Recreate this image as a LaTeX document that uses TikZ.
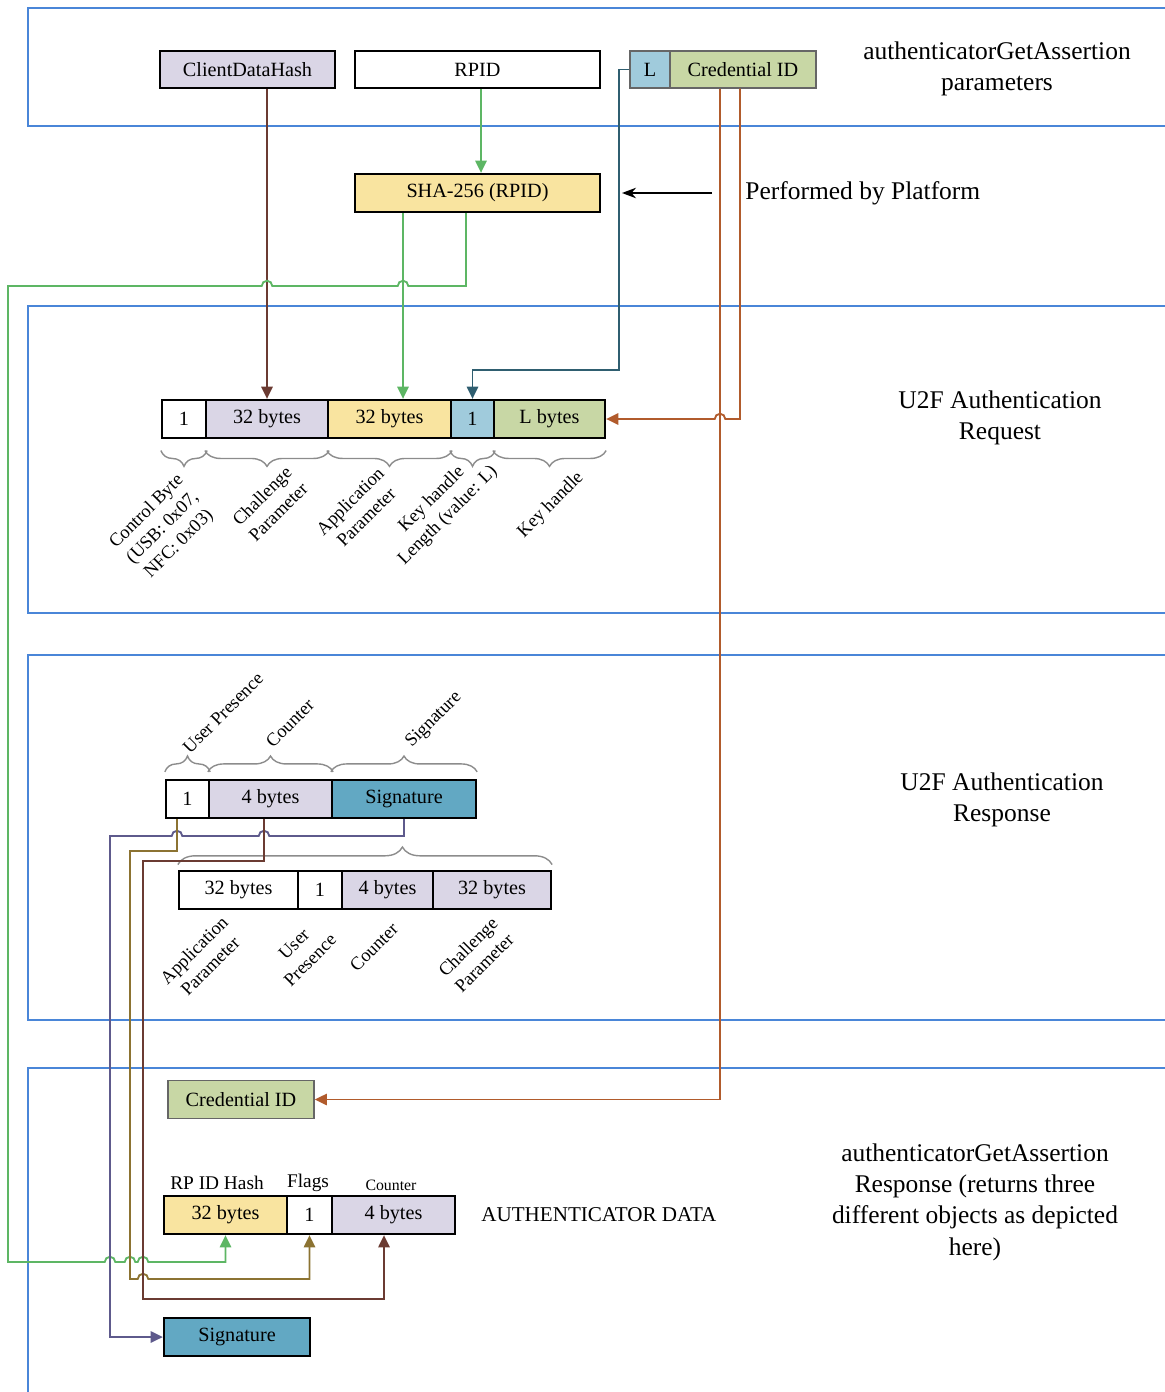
\documentclass[tikz,border=0pt]{standalone}
\usepackage{fontspec}
\setmainfont{Liberation Serif}
\usepackage{xcolor}
\definecolor{frameColor}{HTML}{4A86D8}
\definecolor{lavColor}{HTML}{DAD6E6}
\definecolor{yelColor}{HTML}{F9E4A0}
\definecolor{lblueColor}{HTML}{A0CBDC}
\definecolor{credColor}{HTML}{C8D7A5}
\definecolor{sigColor}{HTML}{62A8C3}
\definecolor{hashLine}{HTML}{5DB664}
\definecolor{cdhLine}{HTML}{6B3B32}
\definecolor{credLine}{HTML}{B15B2C}
\definecolor{lenLine}{HTML}{2F5E70}
\definecolor{sigLine}{HTML}{5E5A8C}
\definecolor{flagLine}{HTML}{8C7332}
\usepackage{tikz}
\usetikzlibrary{decorations.pathreplacing,positioning,arrows.meta,calc}

\tikzset{
  secframe/.style={draw=frameColor, line width=1pt},
  field/.style={draw=black, line width=1.3pt, fill=white, minimum height=0.76cm,
    inner sep=0pt, font=\fontsize{11.5}{13}\selectfont},
  softfield/.style={field, draw=black!60, line width=0.8pt},
  fieldlbl/.style={rotate=45, align=center, inner sep=0pt, font=\fontsize{10.5}{13}\selectfont},
  fieldtag/.style={inner sep=0pt, font=\fontsize{11}{13}\selectfont},
  sectitle/.style={align=center, inner sep=0pt, font=\fontsize{14.5}{17.8}\selectfont},
  fieldbrace/.style={draw=black!45, line width=0.8pt, decorate, decoration={brace, amplitude=9pt}},
  conn/.style={line width=1.05pt, -{Triangle[width=6.5pt,length=7pt]}},
}

\begin{document}
\begin{tikzpicture}[x=0.02cm, y=-0.02cm]
  \useasboundingbox (0,0) rectangle (1164,1392);

  % section frames
  \draw[secframe] (1170,8) -| (28,126) -- (1170,126);
  \draw[secframe] (1170,306) -| (28,613) -- (1170,613);
  \draw[secframe] (1170,655) -| (28,1020) -- (1170,1020);
  \draw[secframe] (1170,1068) -| (28,1400);

  % authenticatorGetAssertion parameters
  \node[field, fill=lavColor, minimum width=3.5cm, minimum height=0.74cm] (cdh) at (247.5,69.5) {ClientDataHash};
  \node[field, minimum width=4.9cm, minimum height=0.74cm] (rpid) at (477.5,69.5) {RPID};
  \node[softfield, fill=lblueColor, minimum width=0.8cm, minimum height=0.74cm] (len) at (650,69.5) {L};
  \node[softfield, fill=credColor, minimum width=2.92cm, minimum height=0.74cm] (cred) at (743,69.5) {Credential ID};
  \node[sectitle] (tparams) at (997,69) {authenticatorGetAssertion\\parameters};

  \node[field, fill=yelColor, minimum width=4.9cm] (sha) at (477.5,193) {SHA-256 (RPID)};
  \node[sectitle, anchor=west] (perf) at (745,193) {Performed by Platform};
  \coordinate (perfend) at (622,193);
  \draw[line width=0.8pt, -{Stealth[length=8pt,width=6pt]}] ([xshift=-0.66cm]perf.west) -- (perfend);

  % U2F authentication request
  \foreach \n/\x/\w/\c/\t in {rq1/184/0.88/white/1, rq2/267/2.44/lavColor/32 bytes,
      rq3/389.5/2.46/yelColor/32 bytes, rq4/472.5/0.86/lblueColor/1, rq5/549.5/2.22/credColor/L bytes}
    \node[field, fill=\c, minimum width=\w cm] (\n) at (\x,419) {\t};
  \foreach \n in {rq1,rq2,rq3,rq4,rq5}
    \draw[fieldbrace] ([yshift=-6.5pt]\n.south east) -- ([yshift=-6.5pt]\n.south west);
  \node[fieldlbl] (lctrl) at (163,528) {Control Byte\\(USB: 0x07,\\NFC: 0x03)};
  \node[fieldlbl] (lchal) at (270,504) {Challenge\\Parameter};
  \node[fieldlbl] (lapp) at (358,509) {Application\\Parameter};
  \node[fieldlbl] (lkhl) at (440,508) {Key handle\\Length (value: L)};
  \node[fieldlbl] (lkh) at (551,505) {Key handle};
  \node[sectitle] (treq) at (1000,418) {U2F Authentication\\Request};

  \draw[conn, cdhLine] (cdh.south -| rq2.north) -- (rq2.north);
  \draw[conn, hashLine] (rpid.south -| 481,0) -- (sha.north -| 481,0);
  \draw[conn, hashLine] (sha.south -| 403,0) -- (rq3.north -| 403,0);
  \draw[conn, lenLine] (len.west) -- ++(-10,0) |- ($(rq4.north)+(0,-29)$) -- (rq4.north);
  \draw[conn, credLine] (cred.south -| 740,0) -- (740,419) -- ([xshift=3pt]720,419)
    arc[start angle=0, end angle=180, radius=3pt] -- (rq5.east);

  % U2F authentication response
  \foreach \n/\x/\w/\c/\t in {rs1/187.5/0.86/white/1, rs2/270.5/2.46/lavColor/4 bytes,
      rs3/404/2.88/sigColor/Signature}
    \node[field, fill=\c, minimum width=\w cm] (\n) at (\x,799) {\t};
  \foreach \n in {rs1,rs2,rs3}
    \draw[fieldbrace] ([yshift=4pt]\n.north west) -- ([yshift=4pt]\n.north east);
  \node[fieldlbl] (lup) at (223,713) {User Presence};
  \node[fieldlbl] (lctr) at (290,723) {Counter};
  \node[fieldlbl] (lsig) at (434,720) {Signature};

  \foreach \n/\x/\w/\c/\t in {sd1/238.5/2.38/white/32 bytes, sd2/320/0.88/white/1,
      sd3/387.5/1.82/lavColor/4 bytes, sd4/492/2.36/lavColor/32 bytes}
    \node[field, fill=\c, minimum width=\w cm] (\n) at (\x,890) {\t};
  \draw[fieldbrace, decoration={amplitude=10pt, aspect=0.6}] ([yshift=3pt]sd1.north west) -- ([yshift=3pt]sd4.north east);
  \node[fieldlbl] (lsapp) at (202,958) {Application\\Parameter};
  \node[fieldlbl] (lsup) at (302,952) {User\\Presence};
  \node[fieldlbl] (lsctr) at (374,947) {Counter};
  \node[fieldlbl] (lschal) at (476,955) {Challenge\\Parameter};
  \node[sectitle] (tresp) at (1002,800) {U2F Authentication\\Response};

  % authenticatorGetAssertion response
  \node[softfield, fill=credColor, minimum width=2.92cm] (ocred) at (241,1099.5) {Credential ID};
  \foreach \n/\x/\w/\c/\t in {ad1/225.5/2.46/yelColor/32 bytes, ad2/309.5/0.9/white/1,
      ad3/393.5/2.46/lavColor/4 bytes}
    \node[field, fill=\c, minimum width=\w cm] (\n) at (\x,1215) {\t};
  \node[fieldtag] (tagrp) at (217,1183) {RP ID Hash};
  \node[fieldtag] (tagfl) at (308,1183) {Flags};
  \node[fieldtag, font=\fontsize{9}{11}\selectfont] (tagctr) at (391,1185) {Counter};
  \node[fieldtag, font=\fontsize{12}{14}\selectfont, anchor=west] (adtag) at (481,1215) {AUTHENTICATOR DATA};
  \node[field, fill=sigColor, minimum width=2.92cm] (osig) at (237,1337) {Signature};
  \node[sectitle] (tout) at (975,1202) {authenticatorGetAssertion\\Response (returns three\\different objects as depicted\\here)};

  \draw[conn, credLine] (cred.south -| 720,0) |- (ocred.east);
  \draw[conn, hashLine] (sha.south -| 466,0) -- (466,286) -- ([xshift=3pt]403,286)
    arc[start angle=0, end angle=180, radius=3pt] -- ([xshift=3pt]267,286)
    arc[start angle=0, end angle=180, radius=3pt] -- (8,286) -- (8,1262)
    -- ([xshift=-3pt]110,1262) arc[start angle=180, end angle=0, radius=3pt]
    -- ([xshift=-3pt]130,1262) arc[start angle=180, end angle=0, radius=3pt]
    -- ([xshift=-3pt]143,1262) arc[start angle=180, end angle=0, radius=3pt]
    -| (ad1.south);
  \draw[conn, sigLine] (rs3.south) -- (404,836) -- ([xshift=3pt]264,836)
    arc[start angle=0, end angle=180, radius=3pt] -- ([xshift=3pt]177,836)
    arc[start angle=0, end angle=180, radius=3pt] -- (110,836) |- (osig.west);
  \draw[conn, flagLine] (rs1.south -| 177,0) -- (177,851) -| (130,1279) -- ([xshift=-3pt]143,1279)
    arc[start angle=180, end angle=0, radius=3pt] -| (ad2.south);
  \draw[conn, cdhLine] (rs2.south -| 264,0) -- (264,861) -| (143,1299) -| (ad3.south -| 384,0);
\end{tikzpicture}
\end{document}
